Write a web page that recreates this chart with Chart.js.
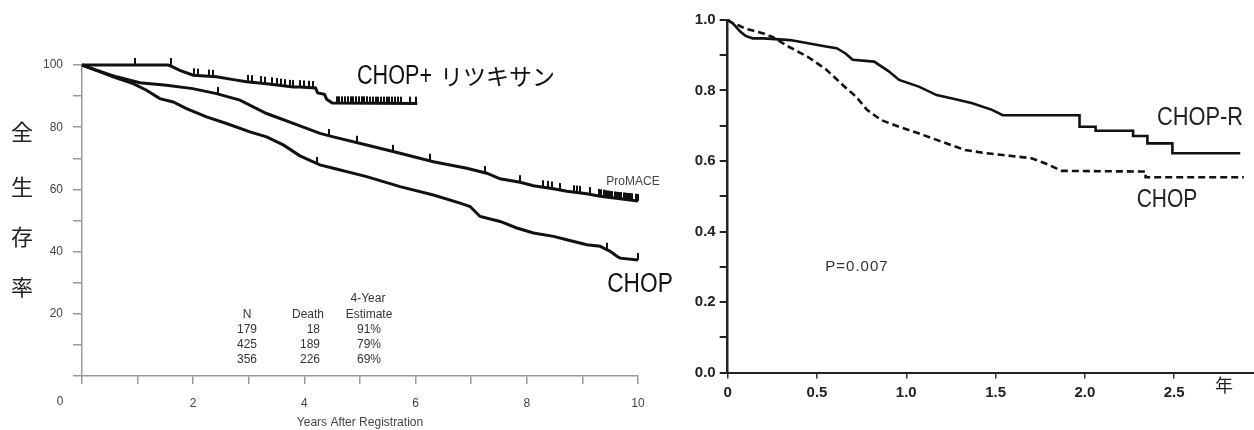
<!DOCTYPE html>
<html><head><meta charset="utf-8">
<script src="https://cdn.jsdelivr.net/npm/chart.js@4.4.1/dist/chart.umd.min.js"></script>
<style>
html,body{margin:0;padding:0;background:#fff;width:1254px;height:430px;overflow:hidden}
#c1{position:absolute;left:0;top:0}
#c2{position:absolute;left:680px;top:0}
</style></head><body>
<canvas id="c1" width="680" height="430"></canvas>
<canvas id="c2" width="574" height="430"></canvas>
<script>
// ---------- LEFT PANEL DATA (years, % survival) ----------
const leftXTicks = [0,1,2,3,4,5,6,7,8,9,10];
const leftYTicks = [0,10,20,30,40,50,60,70,80,90,100];
const rtx_t = [0, 1.55, 1.62, 1.76, 2.0, 2.42, 2.72, 2.96, 3.32, 3.8, 3.92, 4.2, 4.24, 4.36, 4.4, 4.5, 6.03];
const rtx_v = [100, 100, 99.5, 98.3, 96.7, 96.2, 95.3, 94.6, 94.0, 92.9, 92.9, 92.6, 91.0, 90.6, 89.0, 87.8, 87.6];
const pro_t = [0, 0.26, 0.62, 1.04, 1.52, 1.99, 2.42, 2.84, 3.32, 3.8, 4.28, 4.52, 5.12, 5.72, 6.32, 6.92, 7.28, 7.52, 7.88, 8.12, 8.48, 8.72, 9.08, 9.32, 10.0];
const pro_v = [100, 98.3, 96.2, 94.3, 93.5, 92.4, 90.8, 88.7, 84.4, 81.2, 78.0, 76.9, 74.3, 71.6, 68.9, 66.8, 65.2, 63.4, 62.3, 61.2, 60.2, 59.4, 58.6, 57.8, 56.3];
const chop_t = [0, 0.26, 0.56, 0.92, 1.16, 1.4, 1.64, 1.88, 2.24, 2.6, 3.02, 3.32, 3.62, 3.92, 4.28, 4.52, 5.12, 5.72, 6.32, 6.8, 6.98, 7.16, 7.52, 7.82, 8.12, 8.48, 8.72, 9.08, 9.32, 9.44, 9.5, 9.62, 9.68, 10.0];
const chop_v = [100, 98.3, 96.2, 94.0, 91.9, 89.2, 88.1, 86.0, 83.3, 81.2, 78.5, 76.9, 74.3, 70.8, 67.9, 66.8, 64.1, 60.9, 58.2, 55.6, 54.5, 51.3, 49.7, 47.6, 46.0, 44.9, 43.8, 42.2, 41.7, 40.6, 40.1, 38.5, 37.9, 37.3];
// censor marks
const rtxC_t = [0.95, 1.6, 2.02, 2.08, 2.28, 2.35, 2.98, 3.05, 3.22, 3.3, 3.42, 3.5, 3.58, 3.66, 3.74, 3.8, 3.92, 4.0, 4.08, 4.16, 4.58, 4.63, 4.68, 4.73, 4.78, 4.83, 4.88, 4.93, 4.98, 5.03, 5.08, 5.13, 5.18, 5.23, 5.28, 5.33, 5.38, 5.43, 5.48, 5.53, 5.58, 5.63, 5.68, 5.73, 5.9, 6.0];
const rtxC_v = [100, 100, 96.7, 96.6, 96.3, 96.2, 94.6, 94.5, 94.2, 94.0, 93.8, 93.6, 93.4, 93.2, 93.0, 92.9, 92.9, 92.8, 92.7, 92.6, 87.7, 87.7, 87.7, 87.7, 87.7, 87.7, 87.7, 87.7, 87.7, 87.7, 87.7, 87.7, 87.6, 87.6, 87.6, 87.6, 87.6, 87.6, 87.6, 87.6, 87.6, 87.6, 87.6, 87.6, 87.6, 87.6];
const proC_t = [2.45, 4.45, 4.94, 5.6, 6.26, 7.25, 7.88, 8.3, 8.38, 8.46, 8.6, 8.84, 8.9, 8.96, 9.14, 9.3, 9.34, 9.38, 9.42, 9.46, 9.5, 9.54, 9.58, 9.62, 9.66, 9.7, 9.74, 9.78, 9.82, 9.86, 9.9, 9.96, 10.0];
const proC_v = [90.7, 77.2, 75.0, 72.1, 69.2, 65.3, 62.3, 60.7, 60.5, 60.3, 59.8, 59.1, 59.0, 58.9, 58.5, 57.9, 57.8, 57.7, 57.5, 57.4, 57.3, 57.2, 57.1, 57.0, 56.9, 56.9, 56.8, 56.7, 56.6, 56.6, 56.5, 56.4, 56.3];
const chopC_t = [4.22, 9.44, 10.0];
const chopC_v = [68.2, 40.6, 37.3];
const tableHead = ['N', 'Death', 'Estimate'];
const tableN = ['179', '425', '356'];
const tableDeath = ['18', '189', '226'];
const tableEst = ['91%', '79%', '69%'];

// ---------- RIGHT PANEL DATA (years, survival fraction) ----------
const rightXTicks = [0, 0.5, 1.0, 1.5, 2.0, 2.5];
const rightYTicks = [0, 0.1, 0.2, 0.3, 0.4, 0.5, 0.6, 0.7, 0.8, 0.9, 1.0];
const chr_t = [0, 0.03, 0.07, 0.1, 0.14, 0.2, 0.35, 0.45, 0.55, 0.61, 0.66, 0.7, 0.82, 0.9, 0.96, 1.07, 1.17, 1.27, 1.37, 1.48, 1.54, 1.97, 1.97, 2.06, 2.06, 2.27, 2.27, 2.35, 2.35, 2.49, 2.49, 2.87];
const chr_s = [1.0, 0.99, 0.967, 0.955, 0.948, 0.948, 0.943, 0.934, 0.925, 0.920, 0.905, 0.887, 0.882, 0.855, 0.830, 0.811, 0.787, 0.776, 0.764, 0.745, 0.730, 0.730, 0.697, 0.697, 0.686, 0.686, 0.671, 0.671, 0.650, 0.650, 0.622, 0.622];
const ch_t = [0, 0.03, 0.06, 0.1, 0.14, 0.2, 0.25, 0.35, 0.45, 0.55, 0.65, 0.72, 0.78, 0.86, 0.96, 1.06, 1.17, 1.33, 1.45, 1.54, 1.7, 1.78, 1.87, 2.34, 2.34, 2.89];
const ch_s = [1.0, 0.99, 0.985, 0.975, 0.97, 0.962, 0.952, 0.922, 0.895, 0.86, 0.813, 0.782, 0.745, 0.716, 0.697, 0.680, 0.660, 0.631, 0.622, 0.617, 0.608, 0.593, 0.572, 0.570, 0.554, 0.554];

// ---------- helpers ----------
const SANS = '"Liberation Sans", Arial, sans-serif';
const CJK = '"Noto Sans CJK JP", "Noto Sans CJK SC", sans-serif';
const xy = (t, v) => t.map((x, i) => ({x: x, y: v[i]}));
const tick = document.createElement('canvas');
tick.width = 2; tick.height = 16;
(function(){ const g = tick.getContext('2d'); g.fillStyle = '#111'; g.fillRect(0, 1, 2, 7); })();

function txt(ctx, s, x, y, font, align, color, sx) {
  ctx.save();
  ctx.translate(x, y);
  if (sx) ctx.scale(sx, 1);
  ctx.font = font; ctx.textAlign = align || 'center'; ctx.textBaseline = 'middle';
  ctx.fillStyle = color || '#222';
  ctx.fillText(s, 0, 0);
  ctx.restore();
}

Chart.defaults.animation = false;
Chart.defaults.plugins.legend.display = false;
Chart.defaults.plugins.tooltip.enabled = false;

const lineDS = (d) => ({data: d, borderColor: '#111', borderWidth: 3, pointRadius: 0, tension: 0, fill: false, clip: false});
const censDS = (d) => ({data: d, showLine: false, pointStyle: tick, pointRadius: 3, borderColor: '#111', backgroundColor: '#111', clip: false});

// ---------- LEFT CHART ----------
const leftText = {
  id: 'leftText',
  afterDraw(chart) {
    const ctx = chart.ctx;
    const yT = ['全', '生', '存', '率'], yY = [132, 187, 237, 287];
    yT.forEach((c, i) => txt(ctx, c, 22, yY[i], '22px ' + CJK, 'center', '#222'));
    txt(ctx, '0', 60, 402, '12px ' + SANS, 'center', '#444');
    txt(ctx, 'CHOP+', 357, 77, '27px ' + SANS, 'left', '#111', 0.8);
    txt(ctx, 'リツキサン', 440, 76, '23px ' + CJK, 'left', '#111');
    txt(ctx, 'ProMACE', 633, 182, '12px ' + SANS, 'center', '#444');
    txt(ctx, 'CHOP', 640, 285, '27px ' + SANS, 'center', '#111', 0.84);
    const f = '12px ' + SANS, c = '#333';
    txt(ctx, '4-Year', 368, 299, f, 'center', c);
    txt(ctx, tableHead[0], 247, 315, f, 'center', c);
    txt(ctx, tableHead[1], 324, 315, f, 'right', c);
    txt(ctx, tableHead[2], 369, 315, f, 'center', c);
    [330, 345, 360].forEach((yy, i) => {
      txt(ctx, tableN[i], 247, yy, f, 'center', c);
      txt(ctx, tableDeath[i], 320, yy, f, 'right', c);
      txt(ctx, tableEst[i], 369, yy, f, 'center', c);
    });
  }
};

new Chart(document.getElementById('c1'), {
  type: 'line',
  data: { datasets: [
    lineDS(xy(rtx_t, rtx_v)), lineDS(xy(pro_t, pro_v)), lineDS(xy(chop_t, chop_v)),
    censDS(xy(rtxC_t, rtxC_v)), censDS(xy(proC_t, proC_v)), censDS(xy(chopC_t, chopC_v))
  ]},
  options: {
    responsive: false,
    layout: { padding: { left: 0, right: 42, top: 65, bottom: 0 } },
    scales: {
      x: {
        type: 'linear', min: 0, max: 10,
        afterBuildTicks: s => { s.ticks = leftXTicks.map(v => ({value: v})); },
        afterFit: s => { s.height = 54; },
        ticks: { callback: v => (v > 0 && v % 2 === 0) ? String(v) : '', autoSkip: false, maxRotation: 0,
                 font: { family: SANS, size: 12 }, color: '#444', padding: 12 },
        grid: { drawOnChartArea: false, drawTicks: true, tickLength: 8, color: '#999', lineWidth: 1.5 },
        border: { color: '#999', width: 1.5 },
        title: { display: true, text: 'Years After Registration', font: { family: SANS, size: 12 }, color: '#444', padding: { top: 0, bottom: 0 } }
      },
      y: {
        type: 'linear', min: 0, max: 100,
        afterBuildTicks: s => { s.ticks = leftYTicks.map(v => ({value: v})); },
        afterFit: s => { s.width = 82; },
        ticks: { callback: v => (v > 0 && v % 20 === 0) ? String(v) : '', autoSkip: false,
                 font: { family: SANS, size: 12 }, color: '#444', padding: 10 },
        grid: { drawOnChartArea: false, drawTicks: true, tickLength: 9, color: '#999', lineWidth: 1.5 },
        border: { color: '#999', width: 1.5 }
      }
    }
  },
  plugins: [leftText]
});

// ---------- RIGHT CHART ----------
const OX = 680;
const rightText = {
  id: 'rightText',
  afterDraw(chart) {
    const ctx = chart.ctx;
    txt(ctx, 'CHOP-R', 1200 - OX, 118, '26px ' + SANS, 'center', '#222', 0.84);
    txt(ctx, 'CHOP', 1167 - OX, 200, '25px ' + SANS, 'center', '#222', 0.84);
    ctx.save(); ctx.letterSpacing = '1px';
    txt(ctx, 'P=0.007', 857 - OX, 267, '15px ' + SANS, 'center', '#333');
    ctx.restore();
    txt(ctx, '年', 1224 - OX, 385, '18px ' + CJK, 'center', '#222');
  }
};

new Chart(document.getElementById('c2'), {
  type: 'line',
  data: { datasets: [
    Object.assign(lineDS(xy(chr_t, chr_s)), { borderWidth: 2.6 }),
    Object.assign(lineDS(xy(ch_t, ch_s)), { borderWidth: 2.6, borderDash: [7, 4] })
  ]},
  options: {
    responsive: false,
    layout: { padding: { left: 0, right: 0, top: 20, bottom: 0 } },
    scales: {
      x: {
        type: 'linear', min: 0, max: 2.947,
        afterBuildTicks: s => { s.ticks = rightXTicks.map(v => ({value: v})); },
        afterFit: s => { s.height = 57.5; },
        ticks: { callback: v => v === 0 ? '0' : Number(v).toFixed(1), autoSkip: false, maxRotation: 0,
                 font: { family: SANS, size: 15, weight: 'bold' }, color: '#222', padding: 5 },
        grid: { drawOnChartArea: false, drawTicks: true, tickLength: 6, color: '#333', lineWidth: 1.5 },
        border: { color: '#222', width: 2 }
      },
      y: {
        type: 'linear', min: 0, max: 1,
        afterBuildTicks: s => { s.ticks = rightYTicks.map(v => ({value: v})); },
        afterFit: s => { s.width = 47.7; },
        ticks: { callback: (v, i) => (i % 2 === 0) ? Number(v).toFixed(1) : '', autoSkip: false,
                 font: { family: SANS, size: 15, weight: 'bold' }, color: '#222', padding: 4 },
        grid: { drawOnChartArea: false, drawTicks: true, tickLength: 8, color: '#222', lineWidth: 2 },
        border: { color: '#222', width: 2.5 }
      }
    }
  },
  plugins: [rightText]
});
</script>
</body></html>
